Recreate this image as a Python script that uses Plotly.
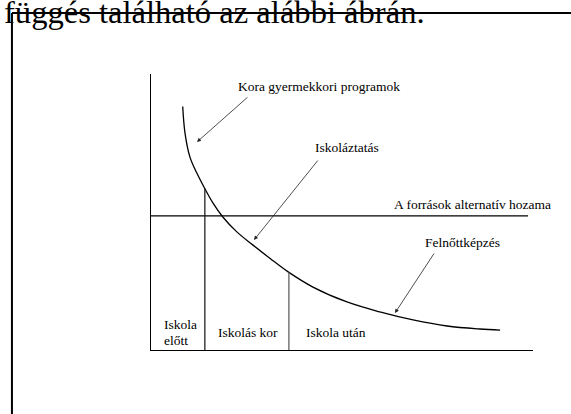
import numpy as np
import plotly.graph_objects as go

# ---- data (age on x, return on human-capital investment on y; arbitrary 0-100 units)
curve_age = [8.3, 8.9, 10.2, 12.0, 14.0, 16.2, 18.8, 22.4, 26.7, 31.2, 35.9,
             42.4, 51.3, 59.9, 68.6, 77.5, 86.1, 91.4]
curve_return = [88.2, 78.6, 69.9, 64.1, 58.7, 53.3, 48.2, 42.9, 38.0, 33.15, 28.3,
                22.8, 17.4, 13.8, 10.9, 8.7, 7.6, 7.2]
r_level = 48.6
r_line_end = 98.7
stage_bounds = [14.1, 36.1]
stage_labels = ["Iskolás kor", "Iskola után"]

FONT = "Liberation Serif, Times New Roman, serif"
fs = 13.5

fig = go.Figure()

# return curve
fig.add_trace(go.Scatter(x=curve_age, y=curve_return, mode="lines",
                         line=dict(color="black", width=1.3, shape="spline", smoothing=1.0),
                         hoverinfo="skip", showlegend=False))
# alternative return (r) line
fig.add_trace(go.Scatter(x=[0, r_line_end], y=[r_level, r_level], mode="lines",
                         line=dict(color="black", width=1.2),
                         hoverinfo="skip", showlegend=False))
# stage boundaries up to the curve
bound_tops = np.interp(stage_bounds, curve_age, curve_return)
bound_colors = ["#111111", "#555555"]
for bx, top, c in zip(stage_bounds, bound_tops, bound_colors):
    fig.add_trace(go.Scatter(x=[bx, bx], y=[0, top], mode="lines",
                             line=dict(color=c, width=1.2),
                             hoverinfo="skip", showlegend=False))

ann = []
def txt(x, y, s, xanchor="left", size=fs):
    ann.append(dict(x=x, y=y, xref="x", yref="y", text=s, showarrow=False,
                    xanchor=xanchor, yanchor="middle",
                    font=dict(family=FONT, size=size, color="black")))

txt(22.25, 95.3, "Kora gyermekkori programok")
txt(42.4, 73.55, "Iskoláztatás")
txt(63.1, 52.9, "A források alternatív hozama")
txt(71.2, 38.8, "Felnőttképzés")
txt(-26.96, 81.2, "Az emberi tőke")
txt(-26.96, 75.0, "beruházás")
txt(-26.96, 69.9, "hozama")
txt(-4.7, 48.2, "r", xanchor="center")
txt(2.9, 9.2, "Iskola")
txt(2.9, 3.6, "előtt")
txt(17.0, 6.2, stage_labels[0])
txt(40.05, 6.2, stage_labels[1])
txt(49.2, -7.6, "Kor", xanchor="center")

# arrows (tail -> head)
arrows = [((25.65, 92.03), (12.04, 75.36)),
          ((43.98, 69.20), (26.96, 39.86)),
          ((74.35, 35.51), (63.87, 13.41))]
for (tx, ty), (hx, hy) in arrows:
    ann.append(dict(x=hx, y=hy, ax=tx, ay=ty, xref="x", yref="y", axref="x", ayref="y",
                    text="", showarrow=True, arrowhead=2, arrowsize=1.0,
                    arrowwidth=0.8, arrowcolor="#222222", standoff=0, startstandoff=0))

# page heading fragment (cut off at top)
ann.append(dict(x=-0.39, y=1.224, xref="paper", yref="paper",
                text="függés található az alábbi ábrán.", showarrow=False,
                xanchor="left", yanchor="middle",
                font=dict(family=FONT, size=32.6, color="black")))

shapes = [
    dict(type="line", xref="paper", yref="paper", x0=-0.364, x1=1.2, y0=1.221, y1=1.221,
         line=dict(color="black", width=2)),
    dict(type="line", xref="paper", yref="paper", x0=-0.364, x1=-0.364, y0=1.221, y1=-0.3,
         line=dict(color="black", width=2)),
]

fig.update_layout(
    width=571, height=414,
    margin=dict(l=151, r=38, t=74, b=64),
    paper_bgcolor="white", plot_bgcolor="white",
    annotations=ann, shapes=shapes,
    xaxis=dict(range=[0, 100], showgrid=False, zeroline=False, showticklabels=False,
               ticks="", showline=True, linecolor="black", linewidth=1.3, fixedrange=True),
    yaxis=dict(range=[0, 100], showgrid=False, zeroline=False, showticklabels=False,
               ticks="", showline=True, linecolor="black", linewidth=1.3, fixedrange=True),
    showlegend=False,
)

fig.write_html("out.html", config=dict(displayModeBar=False),
               post_script="document.body.style.margin='0';document.body.style.overflow='hidden';")
